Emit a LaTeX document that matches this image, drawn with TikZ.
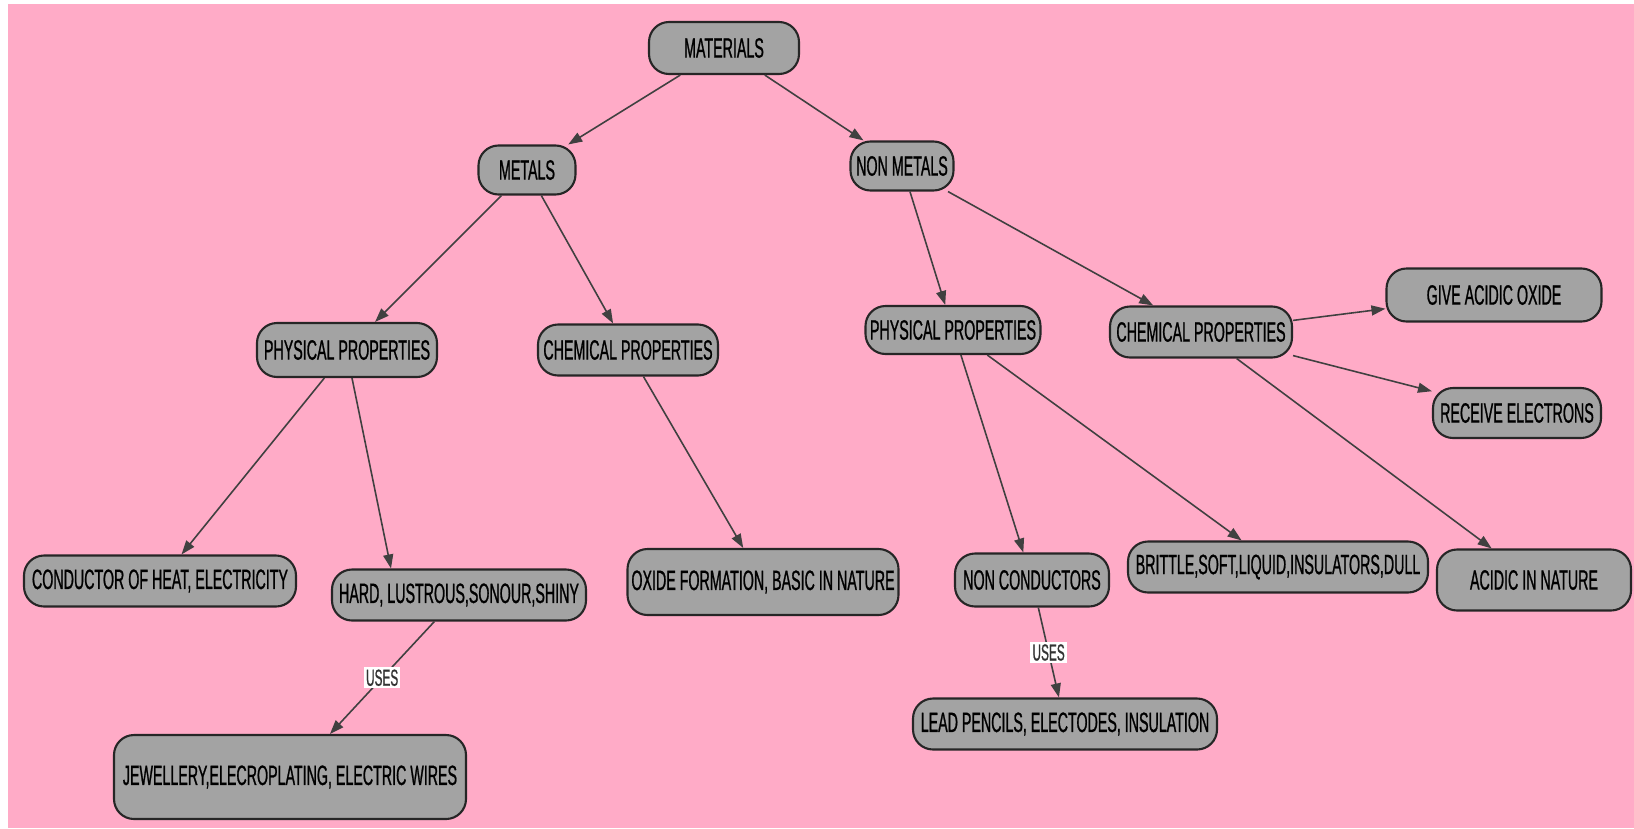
\documentclass[tikz,border=0pt]{standalone}
\usepackage{fontspec}
\newfontfamily\mapfont[FakeStretch=0.51, FakeBold=0.8]{Liberation Sans}
\usepackage{tikz}
\usetikzlibrary{arrows.meta, calc}
\definecolor{pinkbg}{RGB}{255,171,199}
\definecolor{boxgray}{RGB}{163,163,163}
\definecolor{linegray}{RGB}{64,64,64}

\begin{document}
\begin{tikzpicture}[
    concept/.style 2 args={rectangle, draw=black!85, line width=0.6pt, rounded corners=0.2cm, fill=boxgray, font=\mapfont\fontsize{7.95}{9}\selectfont, inner sep=1pt, minimum width=#1, minimum height=#2},
    arrow/.style={-{Triangle[length=0.14cm, width=0.1cm]}, draw=linegray, line width=0.45pt},
    uses/.style={fill=white, inner sep=0.6pt, font=\mapfont\fontsize{6.6}{7}\selectfont, text=black!80},
]
\useasboundingbox (0,0) rectangle (16.34,-8.28);
\fill[pinkbg] (0.08,-0.04) rectangle (16.34,-8.28);

\node[concept={1.50cm}{0.52cm}] (mat) at (7.24, -0.48) {MATERIALS};
\node[concept={0.97cm}{0.49cm}] (met) at (5.27, -1.70) {METALS};
\node[concept={1.03cm}{0.49cm}] (nonmet) at (9.02, -1.66) {NON METALS};

% metals
\node[concept={1.80cm}{0.54cm}] (mphys) at (3.47, -3.50) {PHYSICAL PROPERTIES};
\node[concept={1.80cm}{0.51cm}] (mchem) at (6.28, -3.50) {CHEMICAL PROPERTIES};
\node[concept={2.72cm}{0.51cm}] (conductor) at (1.60, -5.81) {CONDUCTOR OF HEAT, ELECTRICITY};
\node[concept={2.54cm}{0.51cm}] (hard) at (4.59, -5.95) {HARD, LUSTROUS,SONOUR,SHINY};
\node[concept={2.71cm}{0.66cm}] (oxide) at (7.63, -5.82) {OXIDE FORMATION, BASIC IN NATURE};
\node[concept={3.52cm}{0.84cm}] (jewel) at (2.90, -7.77) {JEWELLERY,ELECROPLATING, ELECTRIC WIRES};

% non metals
\node[concept={1.75cm}{0.48cm}] (nphys) at (9.53, -3.30) {PHYSICAL PROPERTIES};
\node[concept={1.82cm}{0.51cm}] (nchem) at (12.01, -3.32) {CHEMICAL PROPERTIES};
\node[concept={2.15cm}{0.53cm}] (acidox) at (14.94, -2.95) {GIVE ACIDIC OXIDE};
\node[concept={1.68cm}{0.50cm}] (receive) at (15.17, -4.13) {RECEIVE ELECTRONS};
\node[concept={1.54cm}{0.53cm}] (noncond) at (10.32, -5.80) {NON CONDUCTORS};
\node[concept={3.00cm}{0.51cm}] (brittle) at (12.78, -5.67) {BRITTLE,SOFT,LIQUID,INSULATORS,DULL};
\node[concept={1.94cm}{0.61cm}] (acidic) at (15.34, -5.80) {ACIDIC IN NATURE};
\node[concept={3.04cm}{0.51cm}] (lead) at (10.65, -7.24) {LEAD PENCILS, ELECTODES, INSULATION};

\draw[arrow] (mat)--(met); \draw[arrow] (mat)--(nonmet);
\draw[arrow] (met)--(mphys); \draw[arrow] (met)--(mchem);
\draw[arrow] (mphys)--(conductor); \draw[arrow] ($(mphys.south)+(0.05,0)$)--($(hard.north)+(-0.68,0)$);
\draw[arrow] (mchem)--(oxide);
\draw[arrow] (hard) -- node[uses] {USES} (jewel);
\draw[arrow] (nonmet)--(nphys); \draw[arrow] (nonmet)--(nchem);
\draw[arrow] (nphys)--(noncond); \draw[arrow] (nphys)--(brittle);
\draw[arrow] (noncond) -- node[uses] {USES} (lead);
\draw[arrow] (nchem)--(acidox); \draw[arrow] (nchem)--(receive); \draw[arrow] (nchem)--(acidic);
\end{tikzpicture}
\end{document}
